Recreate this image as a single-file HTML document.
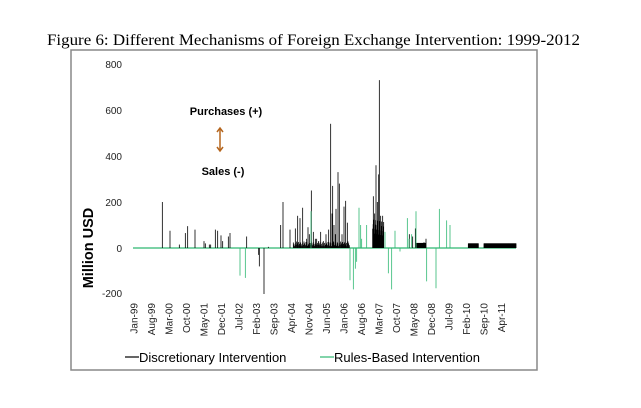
<!DOCTYPE html>
<html><head><meta charset="utf-8"><style>
body{margin:0;background:#fff;width:641px;height:403px;overflow:hidden}
</style></head><body>
<svg id="s" width="641" height="403" xmlns="http://www.w3.org/2000/svg" font-family="Liberation Sans, sans-serif">
<text x="47" y="45" textLength="533" lengthAdjust="spacingAndGlyphs" font-family="Liberation Serif, serif" font-size="15.5">Figure 6: Different Mechanisms of Foreign Exchange Intervention: 1999-2012</text>
<rect x="71" y="50" width="466" height="320" fill="none" stroke="#888" stroke-width="1.5"/>
<g font-size="10" text-anchor="end" fill="#222">
<text x="122" y="68">800</text><text x="122" y="114">600</text><text x="122" y="160">400</text><text x="122" y="206">200</text><text x="122" y="252">0</text><text x="122" y="297">-200</text>
</g>
<text transform="translate(93,248) rotate(-90)" text-anchor="middle" font-size="14.5" font-weight="bold">Million  USD</text>
<text x="226" y="115" text-anchor="middle" font-size="11" font-weight="bold">Purchases (+)</text>
<text x="223" y="175" text-anchor="middle" font-size="11" font-weight="bold">Sales (-)</text>
<g stroke="#b5651d" stroke-width="1.5" fill="none"><line x1="220" y1="129" x2="220" y2="150"/><polyline points="217,132 220,128 223,132"/><polyline points="217,147 220,151 223,147"/></g>
<line x1="133" y1="248" x2="516" y2="248" stroke="#2eb872" stroke-width="1.2"/>
<g id="bars"></g>
<g id="ticks" font-size="10" fill="#222"></g>
<line x1="125" y1="357" x2="139" y2="357" stroke="#000" stroke-width="1.2"/>
<text x="139" y="362" font-size="13">Discretionary Intervention</text>
<line x1="320" y1="357" x2="334" y2="357" stroke="#2eb872" stroke-width="1.2"/>
<text x="334" y="362" font-size="13">Rules-Based Intervention</text>
</svg>
<script>
var NS="http://www.w3.org/2000/svg",g=document.getElementById('bars');
function bar(zx,v,c){var x=60+zx/3,l=document.createElementNS(NS,'line');l.setAttribute('x1',x);l.setAttribute('x2',x);l.setAttribute('y1',248);l.setAttribute('y2',248-v*0.23);l.setAttribute('stroke',c);l.setAttribute('stroke-width',0.8);g.appendChild(l);}
var B=[[307,200],[330,75],[358,15],[376,65],[383,95],[405,80],[432,30],[436,20],[448,15],[452,15],[466,80],[473,75],[483,55],[488,30],[505,50],[510,65],[560,50],[596,-30],[598,-80],[612,-200],[625,5],[662,100],[669,200],[690,80],[706,85],[713,140],[720,130],[728,175],[740,40],[744,90],[748,60],[754,250],[760,70],[766,40],[770,40],[776,30],[782,70],[790,30],[798,60],[806,80],[812,540],[816,150],[818,270],[822,100],[826,60],[828,170],[834,330],[838,280],[846,60],[852,180],[857,205],[862,110],[940,225],[944,150],[948,360],[952,200],[956,320],[958,730],[962,140],[968,140],[1048,60],[1058,50],[1066,85],[1092,25],[1098,40]];
for(var z=700;z<870;z+=2){bar(z,8+((z*7)%22),'#000');}
for(var z=938;z<972;z+=1.5){bar(z,50+((z*13)%80),'#000');}
for(var z=1070;z<1098;z+=1.5){bar(z,22,'#000');}
B.forEach(function(b){bar(b[0],b[1],'#000')});
for(var z=1225;z<=1255;z+=1){bar(z,20,'#000');}
for(var z=1272;z<=1368;z+=1){bar(z,20,'#000');}
var G=[[540,-120],[556,-130],[753,160],[870,-140],[880,-180],[886,-90],[890,-60],[897,175],[902,100],[905,40],[920,100],[975,70],[985,-110],[995,-180],[1005,75],[1020,-15],[1042,130],[1047,40],[1055,60],[1068,160],[1100,-145],[1128,-175],[1138,170],[1160,120],[1170,100]];
G.forEach(function(b){bar(b[0],b[1],'#2eb872')});
var L=['Jan-99','Aug-99','Mar-00','Oct-00','May-01','Dec-01','Jul-02','Feb-03','Sep-03','Apr-04','Nov-04','Jun-05','Jan-06','Aug-06','Mar-07','Oct-07','May-08','Dec-08','Jul-09','Feb-10','Sep-10','Apr-11'],t=document.getElementById('ticks');
L.forEach(function(s,i){var x=134+17.5*i+3.5,e=document.createElementNS(NS,'text');e.setAttribute('transform','translate('+x+',303) rotate(-90)');e.setAttribute('text-anchor','end');e.textContent=s;t.appendChild(e);});
</script>
</body></html>
